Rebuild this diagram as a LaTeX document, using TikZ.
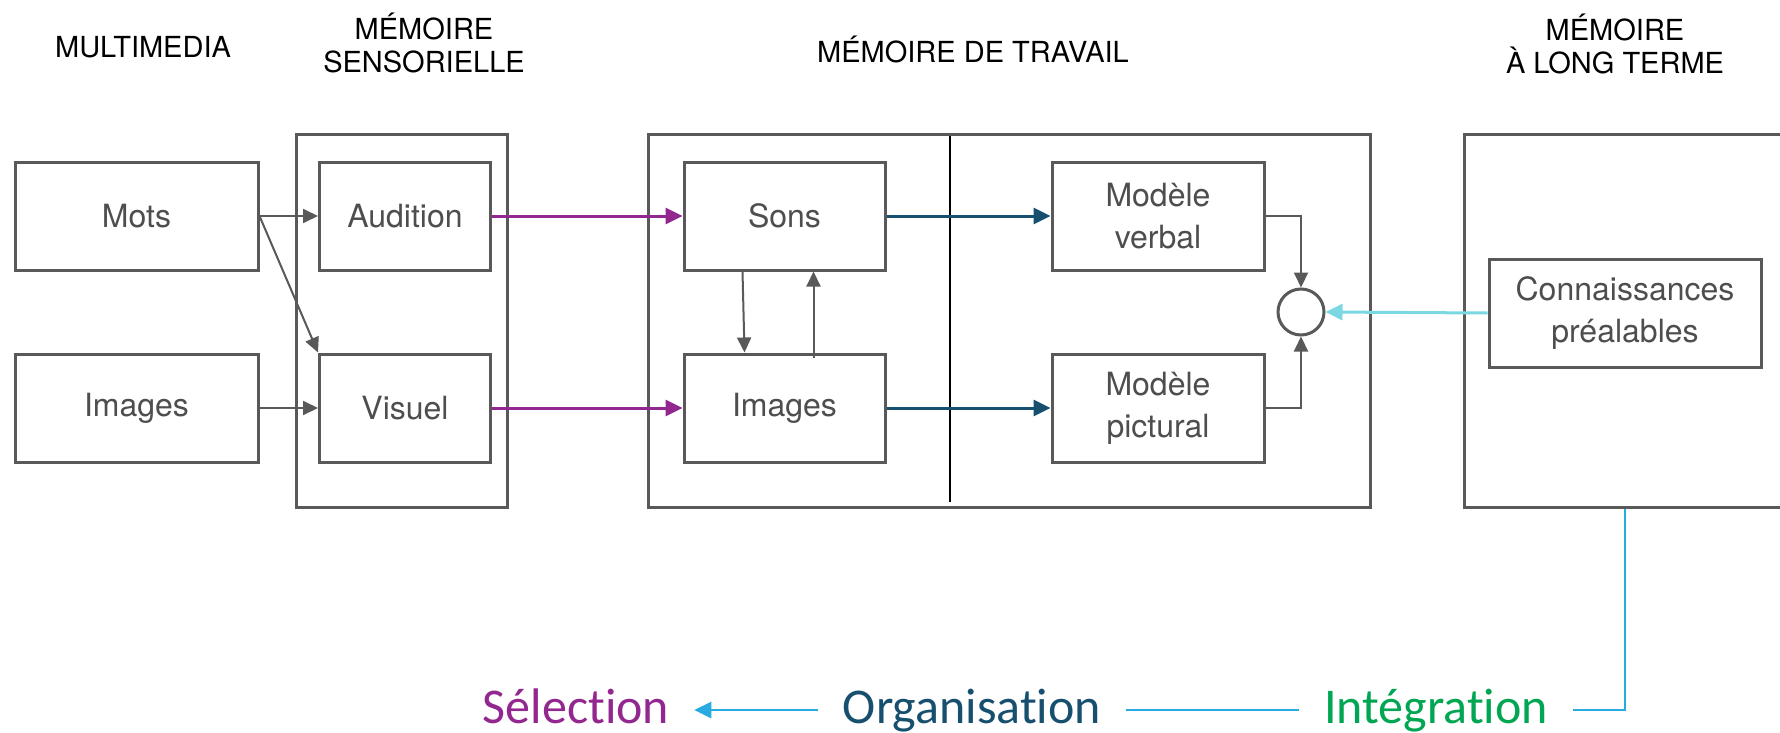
\documentclass[tikz,border=0pt]{standalone}
\usepackage{fontspec}
\setmainfont{TeX Gyre Heros}
\newfontfamily\calibrifont[Ligatures=CommonOff]{Carlito}
\usetikzlibrary{arrows.meta}
\definecolor{boxgray}{RGB}{89,89,89}
\definecolor{labelgray}{RGB}{78,78,78}
\definecolor{selpurple}{RGB}{146,39,143}
\definecolor{orgblue}{RGB}{22,80,110}
\definecolor{intgreen}{RGB}{0,166,81}
\definecolor{cycleblue}{RGB}{41,171,226}
\definecolor{knowcyan}{RGB}{122,216,226}
\newcommand\mtitlefont{\fontsize{29}{33}\selectfont}
\newcommand\mlabelfont{\fontsize{32}{42}\selectfont}
\newcommand\mstepfont{\calibrifont\fontsize{50}{60}\selectfont}
\tikzset{
  mbox/.style   ={rectangle, draw=boxgray, line width=3pt, text=labelgray,
                  font=\mlabelfont, align=center, inner sep=0pt,
                  minimum height=108pt},
  mframe/.style ={rectangle, draw=boxgray, line width=3pt, minimum height=372pt},
  mtitle/.style ={font=\mtitlefont, align=center, text=black},
  mjoin/.style  ={circle, draw=boxgray, line width=3pt, minimum size=46pt, inner sep=0pt},
  mstep/.style  ={font=\mstepfont, text height=36pt, text depth=10pt,
                  inner xsep=25pt, inner ysep=0pt},
  mdivider/.style={line width=2pt, black},
  garrow/.style ={-{Triangle[length=15pt,width=14pt]}, line width=2pt, boxgray},
  parrow/.style ={-{Triangle[length=17pt,width=16pt]}, line width=3pt, selpurple},
  barrow/.style ={-{Triangle[length=17pt,width=16pt]}, line width=3pt, orgblue},
  carrow/.style ={-{Triangle[length=17pt,width=16pt]}, line width=3pt, knowcyan},
  cline/.style  ={line width=2.8pt, cycleblue},
}
\begin{document}
\begin{tikzpicture}[x=1pt, y=-1pt]
  \clip (0,0) rectangle (1780,733);
  \fill[white] (0,0) rectangle (1780,733);

  % titres
  \node[mtitle] (tmulti) at (143,47) {MULTIMEDIA};
  \node[mtitle] (tsens)  at (424,43) {MÉMOIRE\\SENSORIELLE};
  \node[mtitle] (ttrav)  at (973,49) {MÉMOIRE DE TRAVAIL};
  \node[mtitle] (tlong)  at (1615,44) {MÉMOIRE\\À LONG TERME};

  % cadres
  \node[mframe, minimum width=211pt] (sens) at (402,321) {};
  \node[mframe, minimum width=722pt] (trav) at (1009,321) {};
  \node[mframe, minimum width=352pt] (ltm)  at (1640,321) {};
  \coordinate (divtop) at (950,136);
  \coordinate (divbot) at (950,502);
  \draw[mdivider] (divtop) -- (divbot);

  % boites
  \node[mbox, minimum width=243pt] (mots) at (136.5,216) {Mots};
  \node[mbox, minimum width=243pt] (imgs) at (136.5,408) {Images};
  \node[mbox, minimum width=171pt] (aud)  at (405,216) {Audition};
  \node[mbox, minimum width=171pt] (vis)  at (405,408) {Visuel};
  \node[mbox, minimum width=201pt] (sons) at (784.5,216) {Sons};
  \node[mbox, minimum width=201pt] (wimg) at (784.5,408) {Images};
  \node[mbox, minimum width=212pt] (verb) at (1158,216) {Modèle\\verbal};
  \node[mbox, minimum width=212pt] (pict) at (1158,408) {Modèle\\pictural};
  \node[mjoin] (join) at (1301,312) {};
  \node[mbox, minimum width=272pt] (conn) at (1625,313) {Connaissances\\préalables};

  % etapes
  \node[mstep, text=selpurple] (sel)  at (576,710) {Sélection};
  \node[mstep, text=orgblue]   (orga) at (972,710) {Organisation};
  \node[mstep, text=intgreen]  (intg) at (1436,710) {Intégration};

  % fleches
  \draw[garrow] (mots.east) -- (aud.west);
  \draw[garrow] (mots.east) -- (vis.north west);
  \draw[garrow] (imgs.east) -- (vis.west);
  \draw[parrow] (aud.east) -- (sons.west);
  \draw[parrow] (vis.east) -- (wimg.west);
  \draw[garrow] ([xshift=-42pt]sons.south) -- ([xshift=-40pt]wimg.north);
  \draw[garrow] ([xshift=29pt,yshift=-5pt]wimg.north) -- ([xshift=29pt]sons.south);
  \draw[barrow] (sons.east) -- (verb.west);
  \draw[barrow] (wimg.east) -- (pict.west);
  \draw[garrow] (verb.east) -| (join.north);
  \draw[garrow] (pict.east) -| (join.south);
  \draw[carrow] (conn.west) -- (join.east);

  % cycle
  \draw[cline] (ltm.south -| conn.south) |- (intg.east);
  \draw[cline] (intg.west) -- (orga.east);
  \draw[cline, -{Triangle[length=17pt,width=16pt]}] (orga.west) -- (sel.east);
\end{tikzpicture}
\end{document}
